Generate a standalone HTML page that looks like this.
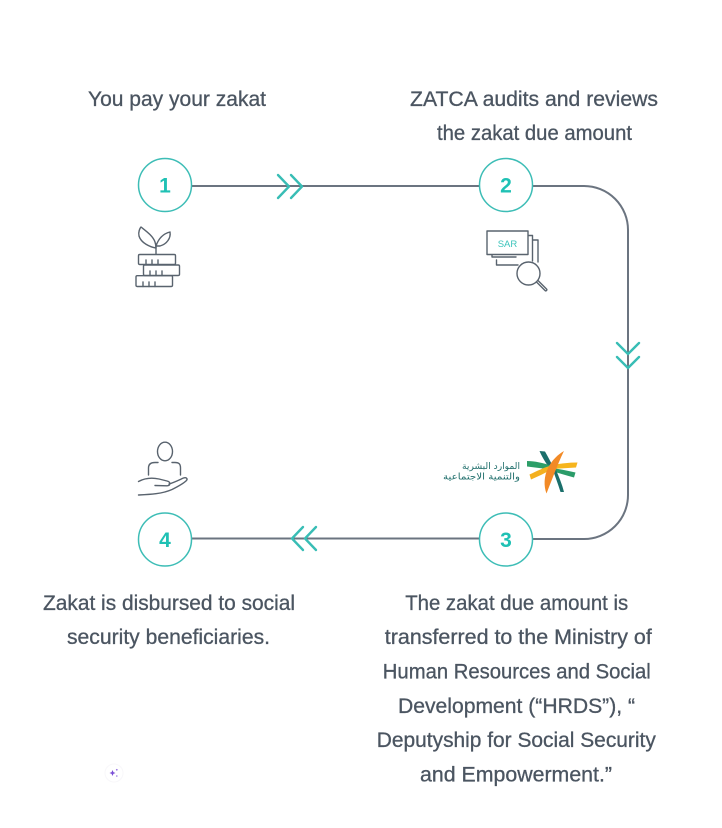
<!DOCTYPE html>
<html>
<head>
<meta charset="utf-8">
<style>
html,body{margin:0;padding:0;background:#fff;}
svg{display:block;}
.t{font-family:"Liberation Sans","DejaVu Sans",sans-serif;font-size:21px;fill:#4b5561;stroke:#4b5561;stroke-width:0.3px;}
.n{font-family:"Liberation Sans",sans-serif;font-size:21px;font-weight:bold;fill:#1fc1b4;}
</style>
</head>
<body>
<svg width="722" height="828" viewBox="0 0 722 828" xmlns="http://www.w3.org/2000/svg">
  <rect width="722" height="828" fill="#fff"/>

  <!-- connectors -->
  <g fill="none" stroke="#6b7480" stroke-width="2">
    <line x1="191" y1="186" x2="480" y2="186"/>
    <path d="M532,186 L584,186 A44,44 0 0 1 628,230 L628,495 A44,44 0 0 1 584,539 L532,539"/>
    <line x1="480" y1="538.5" x2="191" y2="538.5"/>
  </g>

  <!-- chevrons -->
  <g fill="none" stroke="#38bdb5" stroke-width="2.4" stroke-linecap="round" stroke-linejoin="round">
    <path d="M278,175 L289,186.5 L278,198 M291,175 L302,186.5 L291,198"/>
    <path d="M303,527 L292,538.5 L303,550 M316,527 L305,538.5 L316,550"/>
    <path d="M617,343 L628,354 L639,343 M617,357 L628,368 L639,357"/>
  </g>

  <!-- circles -->
  <g fill="#fff" stroke="#3dbdb6" stroke-width="1.5">
    <circle cx="165" cy="185" r="26.5"/>
    <circle cx="506" cy="185" r="26.5"/>
    <circle cx="506" cy="539.5" r="26.5"/>
    <circle cx="165" cy="539.5" r="26.5"/>
  </g>
  <text class="n" x="165" y="192.5" text-anchor="middle">1</text>
  <text class="n" x="506" y="192.5" text-anchor="middle">2</text>
  <text class="n" x="506" y="547" text-anchor="middle">3</text>
  <text class="n" x="165" y="547" text-anchor="middle">4</text>

  <!-- texts -->
  <text class="t" x="177" y="106" text-anchor="middle" textLength="178" lengthAdjust="spacingAndGlyphs">You pay your zakat</text>
  <text class="t" x="534" y="106" text-anchor="middle" textLength="248" lengthAdjust="spacingAndGlyphs">ZATCA audits and reviews</text>
  <text class="t" x="534.5" y="140" text-anchor="middle" textLength="195" lengthAdjust="spacingAndGlyphs">the zakat due amount</text>

  <text class="t" x="169" y="610" text-anchor="middle" textLength="252" lengthAdjust="spacingAndGlyphs">Zakat is disbursed to social</text>
  <text class="t" x="168.5" y="644" text-anchor="middle" textLength="203" lengthAdjust="spacingAndGlyphs">security beneficiaries.</text>

  <text class="t" x="516.7" y="610" text-anchor="middle" textLength="223" lengthAdjust="spacingAndGlyphs">The zakat due amount is</text>
  <text class="t" x="518.3" y="644" text-anchor="middle" textLength="267" lengthAdjust="spacingAndGlyphs">transferred to the Ministry of</text>
  <text class="t" x="516.8" y="678.5" text-anchor="middle" textLength="268" lengthAdjust="spacingAndGlyphs">Human Resources and Social</text>
  <text class="t" x="516.5" y="713" text-anchor="middle" textLength="237" lengthAdjust="spacingAndGlyphs">Development (“HRDS”), “</text>
  <text class="t" x="516.3" y="747" text-anchor="middle" textLength="279" lengthAdjust="spacingAndGlyphs">Deputyship for Social Security</text>
  <text class="t" x="516" y="781.5" text-anchor="middle" textLength="192" lengthAdjust="spacingAndGlyphs">and Empowerment.”</text>

  <!-- icon 1: plant on coins -->
  <g fill="none" stroke="#59636e" stroke-width="1.4" stroke-linecap="round" stroke-linejoin="round">
    <path d="M156,254 L156,244"/>
    <path d="M156,248 C150,247 141,243 139,236 C138,232 140,228 141,227 C146,231 153,236 155,242 C156,245 156,247 156,248 Z"/>
    <path d="M156,246 C158,240 162,234 170,232 C171,238 167,244 160,246 Z"/>
    <rect x="138.5" y="254.5" width="37" height="10" rx="1.2"/>
    <rect x="143.5" y="265" width="36" height="10.5" rx="1.2"/>
    <rect x="136" y="275.7" width="36.5" height="10.8" rx="1.2"/>
    <path d="M146,264.5 L146,260 M152,264.5 L152,260 M158,264.5 L158,260"/>
    <path d="M150,275.5 L150,271 M156,275.5 L156,271 M162,275.5 L162,271"/>
    <path d="M143,286.5 L143,282 M149,286.5 L149,282 M155,286.5 L155,282"/>
  </g>

  <!-- icon 2: SAR documents + magnifier -->
  <g fill="none" stroke="#59636e" stroke-width="1.4" stroke-linejoin="round" stroke-linecap="round">
    <path d="M496.5,260 L496.5,265 L518,265"/>
    <path d="M538,262 L538,240 L533,240"/>
    <path d="M492,254.5 L492,257 L516,257"/>
    <path d="M532.5,261 L532.5,235.5 L528,235.5"/>
    <rect x="487" y="231" width="41" height="23.5" fill="#fff"/>
    <circle cx="528.5" cy="273.5" r="11.5" fill="#fff"/>
    <path d="M536.5,282 L545,290.5 C546,291.5 547.5,290 546.5,289 L538,280.5"/>
  </g>
  <text x="507.5" y="247" text-anchor="middle" font-family="Liberation Sans, sans-serif" font-size="9.5" fill="#3cc4bb">SAR</text>

  <!-- logo -->
  <g>
    <path d="M539.5,451 L545,451.5 C548,457 551,462 553,467 L549.5,468.5 C546,463 542,457 539.5,451 Z" fill="#1b6f6b"/>
    <path d="M527,461 C535,461 543,463 551,465.5 L551,469.5 C543,468.5 535,467.5 527,466.5 Z" fill="#2c9e68"/>
    <path d="M529.5,474.5 C537,471 544,467.5 551,465.5 L551.5,469.5 C545,473 538,476.5 531,479.5 Z" fill="#f4b01f"/>
    <path d="M552,465 C560,463.5 569,462.5 577.5,462.5 L576,467.5 C568,468 560,468.5 552,469 Z" fill="#f6b51e"/>
    <path d="M552,468 C559,469 567,470.5 575.5,472.5 L574,477.5 C566,475.5 559,473 551.5,471 Z" fill="#2b9c69"/>
    <path d="M552.5,469 L556,470 C559,477 562,484 564,492 L560.5,492 C558,484 555,476 552.5,469 Z" fill="#1b6f6b"/>
    <path d="M564,451 C559,461 555,472 546.5,493.5 C543.5,486 544,476 548,468 C552,460 558,454.5 564,451 Z" fill="#f28a26"/>
  </g>
  <text x="520" y="469" text-anchor="end" font-family="DejaVu Sans, sans-serif" font-size="9" fill="#1f6e6b" textLength="58" lengthAdjust="spacingAndGlyphs">الموارد البشرية</text>
  <text x="520" y="479.5" text-anchor="end" font-family="DejaVu Sans, sans-serif" font-size="9" fill="#1f6e6b" textLength="77" lengthAdjust="spacingAndGlyphs">والتنمية الاجتماعية</text>

  <!-- icon 4: person on hand -->
  <g fill="none" stroke="#59636e" stroke-width="1.4" stroke-linecap="round" stroke-linejoin="round">
    <ellipse cx="165" cy="451.5" rx="7.5" ry="9.3"/>
    <path d="M148.5,475 L148.5,468 C148.5,464 151,462.5 155,462.5 L158,462.5"/>
    <path d="M172,462.5 L175,462.5 C179,462.5 180.5,464 180.5,468 L180.5,475"/>
    <path d="M138.5,481.5 C145,478 152,477.5 159,479 L167,481 C171,482 170.5,485.5 167,485.8 L155,485.5"/>
    <path d="M138.5,495 C150,494.5 162,494 172,489.5 C178,486.5 183,484 186.5,480.5 C188,478.5 186,477 183.5,478 C179,480 174,482.5 169,484"/>
  </g>

  <!-- sparkle -->
  <circle cx="114" cy="773" r="9" fill="#fff" stroke="#f8f7fa" stroke-width="1"/>
  <path d="M112.5,770 L113.4,772.1 L115.5,773 L113.4,773.9 L112.5,776 L111.6,773.9 L109.5,773 L111.6,772.1 Z" fill="#7b4fd6"/>
  <circle cx="116.8" cy="769.8" r="0.9" fill="#9b7ae0"/>
  <circle cx="116.8" cy="776" r="0.8" fill="#9b7ae0"/>
</svg>
</body>
</html>
